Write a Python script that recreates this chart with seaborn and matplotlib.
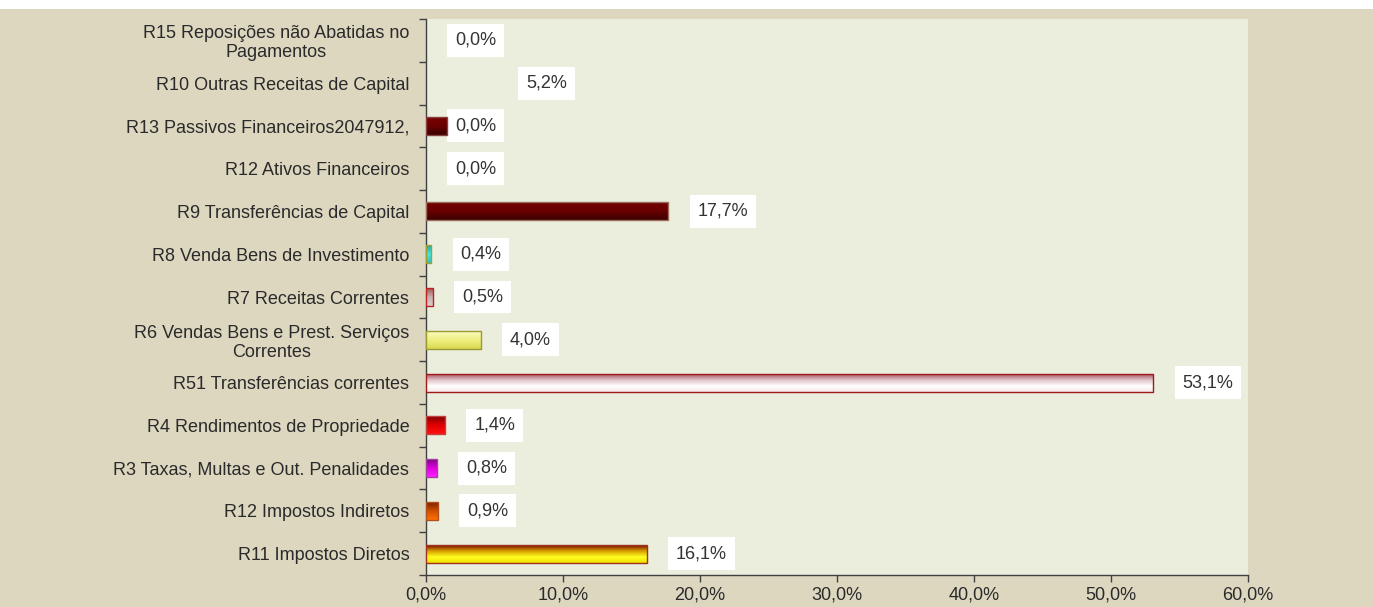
import numpy as np
import pandas as pd
import matplotlib
matplotlib.use("Agg")
import matplotlib.pyplot as plt
import seaborn as sns
from matplotlib.colors import LinearSegmentedColormap
from matplotlib.patches import Rectangle
from matplotlib.ticker import FixedLocator, FuncFormatter

categories = [
    "R15 Reposições não Abatidas no\nPagamentos",
    "R10 Outras Receitas de Capital",
    "R13 Passivos Financeiros2047912,",
    "R12 Ativos Financeiros",
    "R9 Transferências de Capital",
    "R8 Venda Bens de Investimento",
    "R7 Receitas Correntes",
    "R6 Vendas Bens e Prest. Serviços\nCorrentes",
    "R51 Transferências correntes",
    "R4 Rendimentos de Propriedade",
    "R3 Taxas, Multas e Out. Penalidades",
    "R12 Impostos Indiretos",
    "R11 Impostos Diretos",
]
bar_values = [0.0, 0.0, 1.5, 0.0, 17.7, 0.4, 0.5, 4.0, 53.1, 1.4, 0.8, 0.9, 16.1]
label_values = [0.0, 5.2, 0.0, 0.0, 17.7, 0.4, 0.5, 4.0, 53.1, 1.4, 0.8, 0.9, 16.1]
x_ticks = [0, 10, 20, 30, 40, 50, 60]

# gradient stops (top -> bottom) and edge colour of each bar
gradients = [
    (["#700000", "#400000"], "#8a3030"),
    (["#700000", "#400000"], "#8a3030"),
    (["#7a0000", "#6a0000", "#3a0000"], "#8a4040"),
    (["#700000", "#400000"], "#8a3030"),
    (["#740000", "#680000", "#3c0000"], "#9a6a5a"),
    (["#20a0a0", "#40e8e8", "#30c0c0"], "#a0a030"),
    (["#a05858", "#c8b0b0", "#d8d0d0"], "#c02020"),
    (["#fafac0", "#f0f080", "#d8d850"], "#9a9a30"),
    (["#a85868", "#e0c4ca", "#ffffff", "#f4e8e8"], "#a01818"),
    (["#800000", "#e00000", "#ff1010"], "#c04040"),
    (["#800080", "#e000e0", "#ff20ff"], "#a040a0"),
    (["#782000", "#d05000", "#ff7000"], "#b05020"),
    (["#7a1000", "#d8a000", "#ffff20", "#f0e000"], "#a03020"),
]

outer_bg = "#ddd7c0"
plot_bg = "#ebeedd"

sns.set_theme(style="white")
plt.rcParams["font.family"] = ["Liberation Sans", "DejaVu Sans"]

fig = plt.figure(figsize=(13.73, 6.07), dpi=100, facecolor=outer_bg)
fig.patches.append(Rectangle((0, 1 - 9 / 607), 1, 9 / 607, transform=fig.transFigure,
                             facecolor="white", edgecolor="none", zorder=-1))
ax = fig.add_axes([426 / 1373, 1 - 575 / 607, (1248 - 426) / 1373, (575 - 19) / 607])
ax.set_facecolor(plot_bg)

df = pd.DataFrame({"cat": categories, "val": bar_values})
sns.barplot(data=df, x="val", y="cat", orient="h", width=0.42, color="#800000",
            ax=ax, errorbar=None, zorder=2)

ax.set_xlim(0, 60)
ax.set_ylim(len(categories) - 0.5, -0.5)

patches = list(ax.patches)
for p, (stops, edge) in zip(patches, gradients):
    x0, y0 = p.get_x(), p.get_y()
    w, h = p.get_width(), p.get_height()
    p.set_facecolor("none")
    if w <= 0:
        p.set_edgecolor("none")
        continue
    p.set_edgecolor(edge)
    p.set_linewidth(1.0)
    p.set_zorder(7)
    cmap = LinearSegmentedColormap.from_list("g", stops)
    grad = np.linspace(0, 1, 64).reshape(-1, 1)
    im = ax.imshow(grad, cmap=cmap, aspect="auto", origin="upper",
                   extent=(x0, x0 + w, y0 + h, y0), zorder=6, interpolation="bilinear")
    clip = Rectangle((x0, y0), w, h, transform=ax.transData, facecolor="none", edgecolor="none")
    im.set_clip_path(clip)

ax.set_xlim(0, 60)
ax.set_ylim(len(categories) - 0.5, -0.5)

# value labels
for i, lv in enumerate(label_values):
    txt = f"{lv:.1f}%".replace(".", ",")
    ax.annotate(txt, xy=(lv, i), xytext=(29, 0), textcoords="offset pixels",
                ha="left", va="center", fontsize=13, color="#333333", zorder=5,
                bbox=dict(boxstyle="square,pad=0.44", facecolor="white", edgecolor="none"))

# axes styling
ax.set_xlabel("")
ax.set_ylabel("")
ax.xaxis.set_major_locator(FixedLocator(x_ticks))
ax.xaxis.set_major_formatter(FuncFormatter(lambda v, _: f"{v:.1f}%".replace(".", ",")))
ax.tick_params(axis="x", which="major", length=5, width=1, color="#404040",
               direction="out", labelsize=13, labelcolor="#2a2a2a", pad=3, bottom=True)
ax.yaxis.set_minor_locator(FixedLocator(np.arange(-0.5, len(categories), 1)))
ax.tick_params(axis="y", which="major", length=0, labelsize=13, labelcolor="#2a2a2a", pad=12)
ax.tick_params(axis="y", which="minor", length=5, width=1, color="#404040",
               direction="out", left=True)
for t in ax.get_yticklabels():
    t.set_multialignment("center")
    t.set_linespacing(1.15)

for s in ["top", "right"]:
    ax.spines[s].set_visible(False)
for s in ["left", "bottom"]:
    ax.spines[s].set_visible(True)
    ax.spines[s].set_color("#404040")
    ax.spines[s].set_linewidth(1.0)
ax.grid(False)

fig.savefig("out.png", dpi=100, facecolor=fig.get_facecolor())
